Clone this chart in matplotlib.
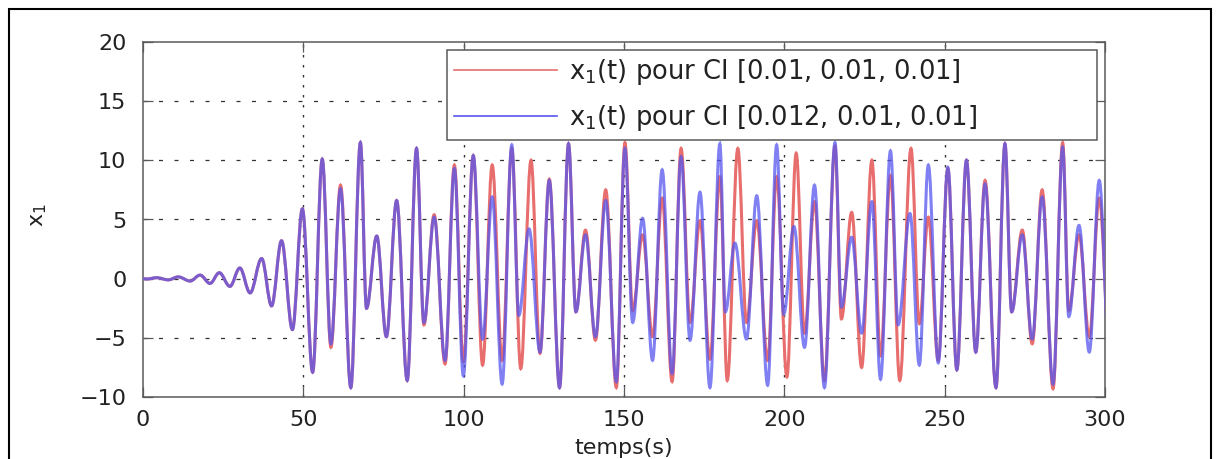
import numpy as np
import matplotlib
matplotlib.use('Agg')
import matplotlib.pyplot as plt
from matplotlib.path import Path
from matplotlib.patches import PathPatch, Rectangle
from matplotlib.lines import Line2D

plt.rcParams['font.family'] = ['DejaVu Sans']
plt.rcParams['mathtext.fontset'] = 'dejavusans'

# extrema (time in s, x1 value)
t_start = [0.0, 1.2, 4.3, 7.9, 11.0, 14.7, 17.8, 20.9, 23.8, 27.1, 30.2, 33.4,
           37.0, 40.1, 43.2, 46.6, 49.7, 52.9, 55.9]
x_start = [0.0, -0.03, 0.08, -0.1, 0.15, -0.2, 0.3, -0.4, 0.5, -0.65, 0.9, -1.2,
           1.7, -2.3, 3.2, -4.3, 5.9, -7.9, 10.1]

t_red = [58.6, 61.6, 64.8, 67.8, 69.7, 72.9, 75.9, 79.1, 82.4, 85.3, 87.6, 90.8,
         94.2, 97.1, 99.9, 103.0, 105.9, 108.9, 112.0, 115.0, 117.8, 121.0, 123.8,
         126.7, 129.9, 132.7, 135.0, 138.0, 141.1, 144.3, 147.6, 150.3, 152.7, 155.8,
         158.9, 161.9, 165.0, 167.8, 170.6, 173.7, 176.8, 179.9, 182.2, 185.5, 188.2,
         191.4, 194.8, 197.6, 200.8, 203.7, 206.3, 209.4, 212.5, 215.8, 217.8, 221.0,
         224.1, 227.3, 230.0, 233.1, 236.0, 239.5, 242.1, 244.9, 248.0, 251.0, 253.8,
         256.8, 259.7, 262.6, 266.0, 268.8, 270.9, 274.2, 277.3, 280.4, 283.8, 286.8,
         288.7, 291.9, 295.1, 298.2, 301.3]
x_red = [-5.8, 7.9, -9.2, 11.5, -2.5, 3.6, -4.9, 6.6, -8.6, 11.0, -3.9, 5.4,
         -7.2, 9.6, -7.0, 10.4, -7.3, 9.6, -6.9, 11.0, -7.6, 10.0, -6.3,
         8.4, -9.2, 11.4, -2.8, 4.1, -5.2, 7.5, -9.2, 11.5, -2.7, 3.7,
         -4.9, 6.8, -8.7, 11.0, -3.7, 4.9, -6.8, 8.6, -8.6, 11.0, -3.7,
         4.9, -6.9, 8.6, -8.3, 10.6, -4.6, 6.5, -8.6, 11.2, -3.4, 5.6,
         -7.5, 10.0, -6.5, 8.7, -8.6, 11.0, -3.8, 5.2, -6.9, 9.3, -7.7,
         10.0, -6.2, 8.3, -9.2, 11.4, -2.8, 4.1, -5.5, 7.5, -9.3, 11.5,
         -2.7, 3.7, -4.9, 6.8, -5.0]

t_blue = [58.6, 61.6, 64.8, 67.8, 69.7, 72.9, 75.9, 79.1, 82.4, 85.3, 87.6, 90.8,
          94.2, 97.1, 99.9, 103.0, 105.9, 108.9, 112.0, 115.0, 117.2, 120.4, 123.8,
          126.7, 129.9, 132.7, 135.0, 138.0, 141.1, 144.3, 147.6, 150.3, 152.7, 155.8,
          158.9, 161.9, 165.0, 167.8, 170.6, 173.7, 176.8, 179.9, 181.6, 184.6, 188.2,
          191.4, 194.8, 197.6, 199.8, 203.0, 206.3, 209.4, 212.5, 215.8, 217.8, 221.0,
          224.1, 227.3, 230.0, 233.1, 235.5, 239.2, 242.1, 244.9, 248.0, 251.0, 253.8,
          256.8, 259.7, 262.6, 266.0, 268.8, 270.9, 274.2, 277.3, 280.4, 283.8, 286.8,
          288.7, 291.9, 295.1, 298.2, 301.3]
x_blue = [-5.5, 7.6, -9.2, 11.5, -2.5, 3.6, -4.9, 6.6, -8.6, 11.0, -3.7, 5.2,
          -6.9, 9.3, -8.2, 10.4, -5.1, 6.9, -8.9, 11.3, -3.1, 4.2, -6.2,
          8.3, -9.2, 11.4, -2.8, 3.7, -4.9, 6.6, -8.7, 11.0, -3.7, 5.1,
          -6.9, 9.2, -8.0, 10.3, -5.2, 7.3, -9.2, 11.4, -2.8, 3.0, -5.1,
          7.0, -9.0, 11.3, -3.0, 4.4, -5.8, 7.9, -9.2, 11.5, -2.4, 3.5,
          -4.6, 6.5, -8.5, 10.8, -3.9, 5.5, -7.3, 9.6, -7.1, 9.4, -7.7,
          10.0, -6.2, 8.0, -9.2, 11.4, -2.8, 3.7, -5.1, 6.9, -8.9, 11.1,
          -3.2, 4.5, -6.2, 8.3, -6.0]

labels = [r'x$_\mathregular{1}$(t) pour CI [0.01, 0.01, 0.01]',
          r'x$_\mathregular{1}$(t) pour CI [0.012, 0.01, 0.01]']

RED = '#e86e6e'
BLUE = '#5656ee'
GRAY = '#5a5a5a'
TXT = '#222222'


def smooth_path(ts, xs):
    # cubic bezier between successive extrema, flat tangent at each extremum
    verts = [(ts[0], xs[0])]
    codes = [Path.MOVETO]
    a = 0.364
    for i in range(1, len(ts)):
        dt = ts[i] - ts[i - 1]
        verts += [(ts[i - 1] + a * dt, xs[i - 1]), (ts[i] - a * dt, xs[i]), (ts[i], xs[i])]
        codes += [Path.CURVE4] * 3
    return Path(verts, codes)


fig = plt.figure(figsize=(12.19, 4.59), dpi=100)
ax = fig.add_axes([143 / 1219, 62 / 459, 962 / 1219, 355 / 459])

for ts, xs, col, al in [(t_red, x_red, RED, 1.0), (t_blue, x_blue, BLUE, 0.75)]:
    p = smooth_path(t_start + ts, x_start + xs)
    ax.add_patch(PathPatch(p, fill=False, edgecolor=col, lw=2.2, alpha=al,
                           transform=ax.transData, clip_on=True, zorder=3))

ax.set_xlim(0, 300)
ax.set_ylim(-10, 20)
ax.set_xticks(np.arange(0, 301, 50))
ax.set_yticks(np.arange(-10, 21, 5))
ax.set_yticklabels(['\u221210', '\u22125', '0', '5', '10', '15', '20'])
ax.tick_params(direction='in', length=7, width=0.9, color=GRAY,
               top=True, right=True, labelsize=16, labelcolor=TXT)
ax.tick_params(axis='x', pad=9.5)
ax.tick_params(axis='y', pad=12)
for s in ax.spines.values():
    s.set_color(GRAY)
    s.set_linewidth(1.1)

# matlab-style grid
for yv in [-5, 0, 5, 10, 15]:
    ax.axhline(yv, color='#333333', lw=0.9, ls=(0, (3.2, 9.2)), zorder=1)
for xv in [50, 100, 150, 200, 250]:
    ax.axvline(xv, color='#333333', lw=1.0, ls=(0, (1.8, 5.4)), zorder=1)

ax.set_xlabel('temps(s)', fontsize=16, color=TXT)
ax.xaxis.set_label_coords(0.5, -0.1155)
ax.set_ylabel(r'x$_\mathregular{1}$', fontsize=16, color=TXT)
ax.yaxis.set_label_coords(-0.098, 0.513)

handles = [Line2D([], [], color=RED, lw=1.2), Line2D([], [], color=BLUE, lw=1.2)]
leg = ax.legend(handles, labels, loc='upper left',
                bbox_to_anchor=((447 - 143) / 962, 0.977, (1097 - 447) / 962, 0.0),
                mode='expand', borderaxespad=0, fontsize=18.5, handlelength=4.0,
                handletextpad=0.45, labelspacing=0.6, fancybox=False, framealpha=1,
                edgecolor=GRAY, borderpad=0.28)
leg.get_frame().set_linewidth(1.1)
for txt in leg.get_texts():
    txt.set_color(TXT)
leg.set_zorder(5)

# outer black frame of the picture
fig.patches.append(Rectangle((9 / 1219, -0.05), 1202 / 1219, 1.05 - 9 / 459,
                             transform=fig.transFigure, fill=False,
                             edgecolor='black', lw=1.5))

fig.savefig('out.png', dpi=100)
